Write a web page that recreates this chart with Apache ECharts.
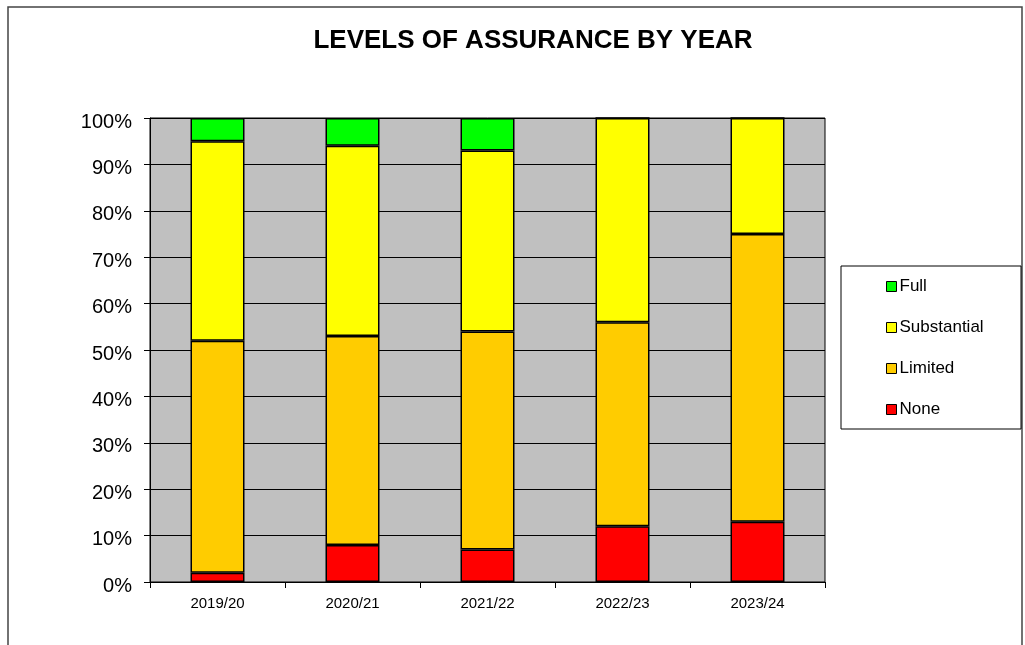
<!DOCTYPE html>
<html>
<head>
<meta charset="utf-8">
<script src="https://cdn.jsdelivr.net/npm/echarts@6/dist/echarts.min.js"></script>
<style>
  html, body { margin: 0; padding: 0; background: #fff; }
  #chart { width: 1025px; height: 645px; }
</style>
</head>
<body>
<div id="chart"></div>
<script>
(function(){
    'use strict';
    // data (percent of reviews per year)
    var years = ['2019/20', '2020/21', '2021/22', '2022/23', '2023/24'];
    var noneVals = [2, 8, 7, 12, 13];
    var limitedVals = [50, 45, 47, 44, 62];
    var substantialVals = [43, 41, 39, 44, 25];
    var fullVals = [5, 6, 7, 0, 0];
    var legendOrder = ['Full', 'Substantial', 'Limited', 'None'];
    var yTicks = [0, 10, 20, 30, 40, 50, 60, 70, 80, 90, 100];

    var font = '"Liberation Sans", Arial, sans-serif';
    var myChart = echarts.init(document.getElementById('chart'));

    function barSeries(name, data, color){
        return {
            name: name,
            type: 'bar',
            stack: 'total',
            barWidth: 54,
            data: data,
            itemStyle: { color: color, borderColor: '#000', borderWidth: 1.5 },
            emphasis: { disabled: true }
        };
    }

    var option = {
        animation: false,
        backgroundColor: '#fff',
        textStyle: { fontFamily: font },
        graphic: [
            {
                type: 'rect',
                shape: { x: 8, y: 7, width: 1014, height: 700 },
                style: { fill: 'none', stroke: '#444', lineWidth: 1.5 },
                z: -1
            },
            {
                type: 'text',
                x: 533, y: 41,
                style: {
                    text: 'LEVELS OF ASSURANCE BY YEAR',
                    font: 'bold 26px ' + font,
                    fill: '#000',
                    textAlign: 'center',
                    textVerticalAlign: 'middle'
                }
            },
            {
                type: 'rect',
                shape: { x: 841, y: 266, width: 180, height: 163 },
                style: { fill: '#fff', stroke: '#000', lineWidth: 1 },
                z: 10
            }
        ],
        legend: {
            data: legendOrder,
            orient: 'vertical',
            left: 886,
            top: 278,
            padding: 0,
            itemWidth: 10,
            itemHeight: 10,
            itemGap: 24,
            icon: 'rect',
            z: 20,
            itemStyle: { borderColor: '#000', borderWidth: 1 },
            textStyle: { fontSize: 17, color: '#000', fontFamily: font, padding: [0, 0, 0, -2] }
        },
        grid: {
            left: 150, right: 200, top: 118, bottom: 63,
            show: true,
            backgroundColor: '#c0c0c0',
            borderColor: '#000',
            borderWidth: 1
        },
        xAxis: {
            type: 'category',
            data: years,
            axisLine: { lineStyle: { color: '#000', width: 1 } },
            axisTick: { show: true, length: 6, lineStyle: { color: '#000' } },
            axisLabel: { color: '#000', fontSize: 15, margin: 14, fontFamily: font },
            splitLine: { show: false }
        },
        yAxis: {
            type: 'value',
            min: yTicks[0],
            max: yTicks[yTicks.length - 1],
            interval: 10,
            axisLine: { show: true, lineStyle: { color: '#000', width: 1 } },
            axisTick: { show: true, length: 6, lineStyle: { color: '#000' } },
            axisLabel: { color: '#000', fontSize: 20, margin: 18, formatter: '{value}%', fontFamily: font, verticalAlign: 'top', padding: [-6, 0, 0, 0] },
            splitLine: { show: true, lineStyle: { color: '#000', width: 1 } }
        },
        series: [
            barSeries('None', noneVals, '#ff0000'),
            barSeries('Limited', limitedVals, '#ffcc00'),
            barSeries('Substantial', substantialVals, '#ffff00'),
            barSeries('Full', fullVals, '#00ff00')
        ]
    };
    myChart.setOption(option);
})();
</script>
</body>
</html>
